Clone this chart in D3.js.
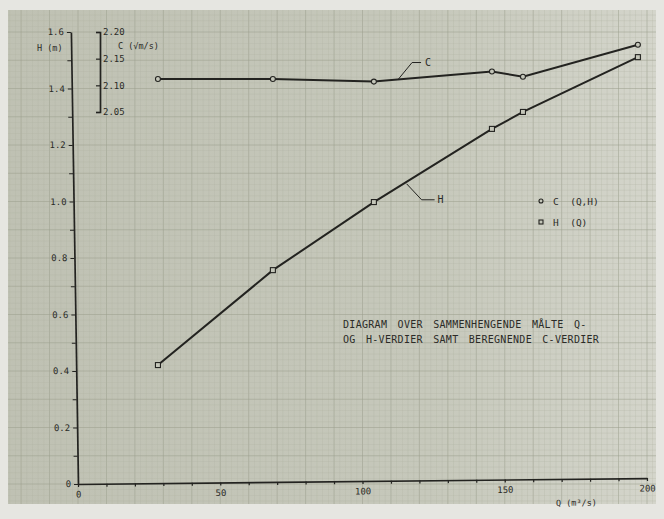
<!DOCTYPE html>
<html>
<head>
<meta charset="utf-8">
<script src="https://cdn.jsdelivr.net/npm/d3@7"></script>
<style>
  body { margin: 0; background: #e6e6e1; }
  svg { display: block; }
  text { font-family: "DejaVu Sans Mono", monospace; fill: #2b2b27; }
</style>
</head>
<body>
<div id="chart"></div>
<script>
const flow = [28.1, 68.5, 104, 145.5, 156.4, 196.8];       // Q (m3/s)
const depth = [0.421, 0.757, 0.998, 1.257, 1.317, 1.511];  // H (m)
const coef = [2.112, 2.112, 2.107, 2.126, 2.116, 2.176];   // C
const qTicks = d3.range(0, 21).map(i => i * 10);
const hTicks = d3.range(0, 17).map(i => i / 10);
const cTicks = [2.05, 2.10, 2.15, 2.20];
const captionLines = ["DIAGRAM OVER SAMMENHENGENDE MÅLTE Q-", "OG H-VERDIER SAMT BEREGNENDE C-VERDIER"];
const legendLabels = ["C  (Q,H)", "H  (Q)"];

const width = 664, height = 519;
const ink = "#232320";
const paperColor = "#c4c6b9";

const svg = d3.select("#chart").append("svg")
    .attr("width", width)
    .attr("height", height);

const xScale = d3.scaleLinear().domain([0, 200]).range([78, 647]);
const yScale = d3.scaleLinear().domain([0, 1.6]).range([484, 32]);
const cScale = d3.scaleLinear().domain([2.05, 2.20]).range([112, 32]);

// paper sheet
const defs = svg.append("defs");
const grad = defs.append("linearGradient").attr("id", "paper")
    .attr("x1", 0).attr("x2", 1).attr("y1", 0).attr("y2", 0);
grad.append("stop").attr("offset", "0%").attr("stop-color", "#bfc1b3");
grad.append("stop").attr("offset", "65%").attr("stop-color", "#c6c8bb");
grad.append("stop").attr("offset", "100%").attr("stop-color", "#d4d5cb");
defs.append("clipPath").attr("id", "sheet")
  .append("rect").attr("x", 8).attr("y", 10).attr("width", 648).attr("height", 494);

svg.append("rect")
    .attr("x", 8).attr("y", 10)
    .attr("width", 648).attr("height", 494)
    .attr("fill", "url(#paper)");

// graph paper grid
const grid = svg.append("g").attr("clip-path", "url(#sheet)");
grid.selectAll(".vline")
  .data(d3.range(-13, 102))
  .enter().append("line")
    .attr("x1", i => xScale(i * 2)).attr("x2", i => xScale(i * 2))
    .attr("y1", 0).attr("y2", height)
    .attr("stroke", i => i % 5 === 0 ? "#9da08f" : "#b0b3a3")
    .attr("stroke-width", i => i % 5 === 0 ? 0.9 : 0.6)
    .attr("opacity", i => i % 5 === 0 ? 0.6 : 0.45);
grid.selectAll(".hline")
  .data(d3.range(-4, 86))
  .enter().append("line")
    .attr("y1", i => yScale(i * 0.02)).attr("y2", i => yScale(i * 0.02))
    .attr("x1", 0).attr("x2", width)
    .attr("stroke", i => i % 5 === 0 ? "#9da08f" : "#b0b3a3")
    .attr("stroke-width", i => i % 5 === 0 ? 0.9 : 0.6)
    .attr("opacity", i => i % 5 === 0 ? 0.6 : 0.45);

// H axis (the drawn axis leans a little to the left)
const yAxis = d3.axisLeft(yScale)
    .tickValues(hTicks)
    .tickSize(4)
    .tickSizeOuter(0)
    .tickPadding(3)
    .tickFormat(d => Math.round(d * 10) % 2 === 0 ? (d === 0 ? "0" : d3.format(".1f")(d)) : "");

const yG = svg.append("g")
    .attr("transform", "translate(78,484) skewX(0.9) translate(-78,-484) translate(78,0)")
    .call(yAxis);

// Q axis (slightly tilted on the sheet)
const xAxis = d3.axisBottom(xScale)
    .tickValues(qTicks)
    .tickSize(3)
    .tickSizeOuter(0)
    .tickPadding(4)
    .tickFormat(d => d % 50 === 0 ? d : "");

const xG = svg.append("g")
    .attr("transform", "rotate(-0.6,78,484) translate(0,484)")
    .call(xAxis);

// C axis, a bracket with labels on the right
const cAxis = d3.axisLeft(cScale)
    .tickValues(cTicks)
    .tickSize(4)
    .tickSizeOuter(4)
    .tickFormat(d3.format(".2f"));

const cG = svg.append("g")
    .attr("transform", "translate(100,0)")
    .call(cAxis);
cG.selectAll(".tick text").attr("x", 3).attr("text-anchor", "start");

[yG, xG, cG].forEach(g => {
  g.select(".domain").attr("stroke", ink).attr("stroke-width", 1.7);
  g.selectAll(".tick line").attr("stroke", ink).attr("stroke-width", 1.2);
  g.selectAll(".tick text").attr("font-size", 9).attr("fill", "#2b2b27")
    .attr("font-family", "DejaVu Sans Mono, monospace");
});

// axis titles
svg.append("text").attr("x", 37).attr("y", 51).attr("font-size", 8.5).text("H (m)");
svg.append("text").attr("x", 118).attr("y", 49).attr("font-size", 8.5).text("C (√m/s)");
svg.append("text").attr("x", 556).attr("y", 506).attr("font-size", 8.5)
    .attr("transform", "rotate(-0.6,556,506)").text("Q (m³/s)");

// curves
const cLine = d3.line()
    .x((d, i) => xScale(flow[i]))
    .y(d => cScale(d));
const hLine = d3.line()
    .x((d, i) => xScale(flow[i]))
    .y(d => yScale(d));

svg.append("path").datum(coef)
    .attr("d", cLine).attr("fill", "none")
    .attr("stroke", ink).attr("stroke-width", 2);
svg.append("path").datum(depth)
    .attr("d", hLine).attr("fill", "none")
    .attr("stroke", ink).attr("stroke-width", 2);

svg.selectAll(".cpt")
  .data(coef)
  .enter().append("circle")
    .attr("cx", (d, i) => xScale(flow[i]))
    .attr("cy", d => cScale(d))
    .attr("r", 2.5)
    .attr("fill", paperColor).attr("stroke", ink).attr("stroke-width", 1.1);

svg.selectAll(".hpt")
  .data(depth)
  .enter().append("rect")
    .attr("x", (d, i) => xScale(flow[i]) - 2.5)
    .attr("y", d => yScale(d) - 2.5)
    .attr("width", 5).attr("height", 5)
    .attr("fill", paperColor).attr("stroke", ink).attr("stroke-width", 1.1);

// leader labels on the curves
const cAt = d3.scaleLinear().domain(flow).range(coef);
const hAt = d3.scaleLinear().domain(flow).range(depth);

const cx0 = xScale(112.5), cy0 = cScale(cAt(112.5));
svg.append("path")
    .attr("d", `M${cx0},${cy0} l14,-17 h9`)
    .attr("fill", "none").attr("stroke", ink).attr("stroke-width", 1);
svg.append("text").attr("x", cx0 + 27).attr("y", cy0 - 13.5).attr("font-size", 10).text("C");

const hx0 = xScale(115.5), hy0 = yScale(hAt(115.5)) + 2;
svg.append("path")
    .attr("d", `M${hx0},${hy0} l15,16 h13`)
    .attr("fill", "none").attr("stroke", ink).attr("stroke-width", 1);
svg.append("text").attr("x", hx0 + 31).attr("y", hy0 + 19.5).attr("font-size", 10).text("H");

// legend
const legend = svg.append("g").attr("transform", "translate(541,201)");
legend.append("circle").attr("cx", 0).attr("cy", 0).attr("r", 2)
    .attr("fill", paperColor).attr("stroke", ink).attr("stroke-width", 1.1);
legend.append("rect").attr("x", -2).attr("y", 19).attr("width", 4).attr("height", 4)
    .attr("fill", paperColor).attr("stroke", ink).attr("stroke-width", 1.1);
legend.selectAll("text")
  .data(legendLabels)
  .enter().append("text")
    .attr("x", 12).attr("y", (d, i) => 4 + i * 21)
    .attr("font-size", 9.5)
    .attr("fill", "#2b2b27")
    .style("white-space", "pre")
    .text(d => d);

// caption
svg.selectAll(".caption")
  .data(captionLines)
  .enter().append("text")
    .attr("x", 343).attr("y", (d, i) => 328 + i * 14.5)
    .attr("font-size", 10)
    .attr("letter-spacing", 0.3)
    .attr("word-spacing", 4)
    .style("white-space", "pre")
    .text(d => d);
</script>
</body>
</html>
